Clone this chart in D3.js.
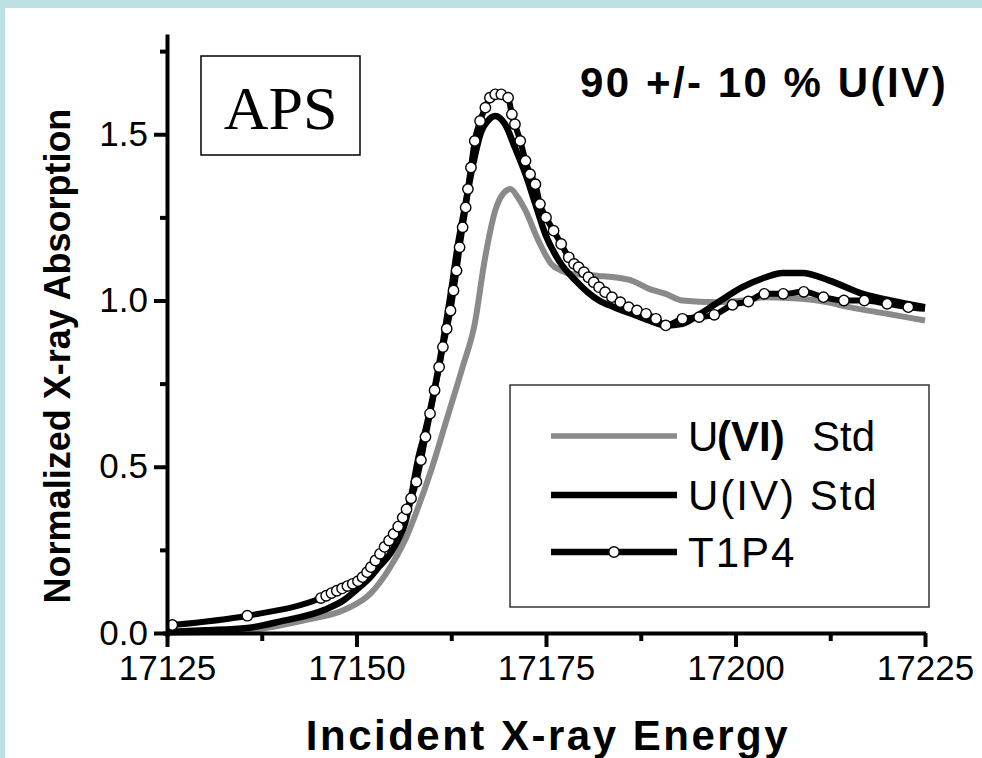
<!DOCTYPE html>
<html>
<head>
<meta charset="utf-8">
<script src="https://cdnjs.cloudflare.com/ajax/libs/d3/7.8.5/d3.min.js"></script>
<style>
  html, body { margin: 0; padding: 0; background: #BCE0E3; }
  svg { display: block; }
  text { font-family: "Liberation Sans", Arial, sans-serif; }
</style>
</head>
<body>
<svg id="chart" width="982" height="758"></svg>
<script>
// ---------- data ----------
const xMajorTicks = [17125, 17150, 17175, 17200, 17225];
const xMinorTicks = [17137.5, 17162.5, 17187.5, 17212.5];
const yMajorTicks = [0, 0.5, 1.0, 1.5];
const yMinorTicks = [0.25, 0.75, 1.25, 1.75];
const yTickLabels = ["0.0", "0.5", "1.0", "1.5"];

const seriesNames = ["U(VI) Std", "U(IV) Std", "T1P4"];

// U(VI) standard (grey)
const uviEnergy = [17125, 17130, 17136.5, 17143.5, 17148.4, 17151.9, 17154.5, 17156.8, 17158, 17160, 17162, 17164, 17165.6, 17166.9, 17168.3, 17169.3, 17170.3, 17171.3, 17172.3, 17174, 17175.7, 17177, 17178.4, 17182, 17184, 17186.3, 17188.6, 17190.8, 17193, 17197.4, 17201, 17204, 17208.8, 17212, 17215, 17220, 17225];
const uviValue  = [0.0, 0.003, 0.01, 0.04, 0.07, 0.12, 0.2, 0.3, 0.37, 0.5, 0.65, 0.8, 0.93, 1.12, 1.27, 1.32, 1.335, 1.31, 1.27, 1.18, 1.11, 1.09, 1.08, 1.074, 1.07, 1.06, 1.035, 1.02, 1.0, 0.995, 1.0, 1.01, 1.005, 0.995, 0.98, 0.96, 0.94];

// U(IV) standard (black)
const uivEnergy = [17125, 17130, 17135.6, 17140, 17145.8, 17148.4, 17150, 17151.9, 17153, 17154.5, 17155.5, 17156.4, 17157.3, 17158.1, 17159, 17160, 17161, 17161.6, 17162.5, 17163.4, 17164.3, 17165.2, 17166.5, 17167.3, 17168.3, 17169.6, 17170.9, 17172.3, 17173.6, 17174.9, 17176.7, 17178.9, 17180.5, 17182, 17184, 17186.3, 17188.6, 17190.8, 17193, 17195, 17197.4, 17200.9, 17204, 17206.2, 17208.8, 17212.4, 17216.8, 17220.4, 17225];
const uivValue  = [0.003, 0.008, 0.015, 0.035, 0.07, 0.10, 0.13, 0.17, 0.2, 0.24, 0.28, 0.33, 0.42, 0.52, 0.6, 0.7, 0.82, 0.9, 1.03, 1.17, 1.28, 1.39, 1.51, 1.54, 1.555, 1.53, 1.46, 1.38, 1.29, 1.2, 1.12, 1.06, 1.025, 1.0, 0.98, 0.96, 0.94, 0.925, 0.93, 0.955, 0.99, 1.04, 1.07, 1.083, 1.083, 1.06, 1.02, 1.0, 0.98];

// T1P4 sample (black line with open markers)
const t1p4Energy = [17125.7, 17135.6, 17145.3, 17146.0, 17146.7, 17147.4, 17148.1, 17148.8, 17149.5, 17150.2, 17150.8, 17151.4, 17151.9, 17152.5, 17153.1, 17153.7, 17154.3, 17154.9, 17155.5, 17156.1, 17156.6, 17157.2, 17157.9, 17158.5, 17159.1, 17159.7, 17160.3, 17160.9, 17161.4, 17161.9, 17162.4, 17162.8, 17163.2, 17163.6, 17164.0, 17164.4, 17164.7, 17165.1, 17165.6, 17166.3, 17167.0, 17167.6, 17168.3, 17169.1, 17170.0, 17170.5, 17170.9, 17171.6, 17172.3, 17172.9, 17173.6, 17174.2, 17175.0, 17176.0, 17177.0, 17178.0, 17178.7, 17179.3, 17180.0, 17180.6, 17181.3, 17182.0, 17182.8, 17183.7, 17184.8, 17185.9, 17187.0, 17188.2, 17189.5, 17190.8, 17193.0, 17195.2, 17197.2, 17199.6, 17201.7, 17203.8, 17206.3, 17209.0, 17211.6, 17214.3, 17217.0, 17220.0, 17222.8];
const t1p4Value  = [0.024, 0.052, 0.105, 0.112, 0.120, 0.127, 0.134, 0.141, 0.148, 0.156, 0.168, 0.183, 0.198, 0.218, 0.238, 0.259, 0.278, 0.298, 0.320, 0.347, 0.372, 0.405, 0.455, 0.52, 0.59, 0.66, 0.73, 0.80, 0.86, 0.915, 0.97, 1.03, 1.09, 1.16, 1.22, 1.28, 1.335, 1.40, 1.48, 1.54, 1.58, 1.61, 1.62, 1.62, 1.61, 1.56, 1.53, 1.48, 1.42, 1.38, 1.35, 1.29, 1.25, 1.21, 1.17, 1.13, 1.11, 1.10, 1.085, 1.07, 1.055, 1.04, 1.025, 1.01, 0.995, 0.98, 0.97, 0.96, 0.945, 0.925, 0.945, 0.95, 0.957, 0.987, 0.997, 1.02, 1.02, 1.026, 1.01, 1.0, 1.0, 0.99, 0.98];
const t1p4End = [17225, 0.975];

// ---------- drawing ----------
const svg = d3.select("#chart");
svg.append("rect").attr("x", 0).attr("y", 0).attr("width", 982).attr("height", 758).attr("fill", "#BCE0E3");
svg.append("rect").attr("x", 5).attr("y", 8).attr("width", 977).attr("height", 750).attr("fill", "#ffffff");

const x = d3.scaleLinear().domain([17125, 17225]).range([167, 925]);
const y = d3.scaleLinear().domain([0, 1.8]).range([633, 34.5]);

const zip = (a, b) => a.map((v, i) => [v, b[i]]);
const line = d3.line().x(d => x(d[0])).y(d => y(d[1])).curve(d3.curveMonotoneX);

const g = svg.append("g");

g.append("path").datum(zip(uviEnergy, uviValue))
  .attr("d", line).attr("fill", "none").attr("stroke", "#8a8a8a").attr("stroke-width", 6).attr("stroke-linejoin", "round");
g.append("path").datum(zip(uivEnergy, uivValue))
  .attr("d", line).attr("fill", "none").attr("stroke", "#000").attr("stroke-width", 6.5).attr("stroke-linejoin", "round");
const t1p4Pts = zip(t1p4Energy, t1p4Value);
g.append("path").datum(t1p4Pts.concat([t1p4End]))
  .attr("d", line).attr("fill", "none").attr("stroke", "#000").attr("stroke-width", 6).attr("stroke-linejoin", "round");
g.selectAll("circle.m").data(t1p4Pts).enter().append("circle")
  .attr("class", "m")
  .attr("cx", d => x(d[0])).attr("cy", d => y(d[1])).attr("r", 5.2)
  .attr("fill", "#fff").attr("stroke", "#000").attr("stroke-width", 1.4);

// ---------- axes ----------
const axisW = 4;
function styleAxis(sel) {
  sel.select(".domain").attr("stroke", "#000").attr("stroke-width", axisW);
  sel.selectAll(".tick line").attr("stroke", "#000").attr("stroke-width", axisW);
  sel.selectAll("text").attr("fill", "#000");
}

const xAxisMinor = svg.append("g").attr("transform", "translate(0,633)")
  .call(d3.axisBottom(x).tickValues(xMinorTicks).tickSize(8).tickSizeOuter(0).tickFormat(""));
xAxisMinor.select(".domain").remove();
xAxisMinor.selectAll(".tick line").attr("stroke", "#000").attr("stroke-width", axisW);

const xAxis = svg.append("g").attr("transform", "translate(0,633)")
  .call(d3.axisBottom(x).tickValues(xMajorTicks).tickSize(14).tickSizeOuter(0).tickPadding(8).tickFormat(d3.format("d")));
styleAxis(xAxis);
xAxis.select(".domain").attr("d", `M${x(17125) - 4},0.5H${x(17225) + 1}`);
xAxis.selectAll("text").attr("font-size", 35).attr("dy", "0.71em");

const yAxisMinor = svg.append("g").attr("transform", "translate(167,0)")
  .call(d3.axisLeft(y).tickValues(yMinorTicks).tickSize(7).tickSizeOuter(0).tickFormat(""));
yAxisMinor.select(".domain").remove();
yAxisMinor.selectAll(".tick line").attr("stroke", "#000").attr("stroke-width", axisW);

const yAxis = svg.append("g").attr("transform", "translate(167,0)")
  .call(d3.axisLeft(y).tickValues(yMajorTicks).tickSize(13).tickSizeOuter(0).tickPadding(6)
    .tickFormat((d, i) => yTickLabels[i]));
styleAxis(yAxis);
yAxis.select(".domain").attr("d", `M0.5,${y(0) + 4}V${y(1.8)}`);
yAxis.selectAll("text").attr("font-size", 35);

// axis titles
svg.append("text")
  .attr("transform", "translate(70,356) rotate(-90)")
  .attr("text-anchor", "middle").attr("font-weight", "bold").attr("font-size", 36)
  .text("Normalized X-ray Absorption");
svg.append("text")
  .attr("x", 548).attr("y", 750)
  .attr("text-anchor", "middle").attr("font-weight", "bold").attr("font-size", 42)
  .attr("letter-spacing", 2.5)
  .text("Incident X-ray Energy");

// title annotation
svg.append("text")
  .attr("x", 580).attr("y", 97)
  .attr("font-weight", "bold").attr("font-size", 42).attr("letter-spacing", 2.5)
  .text("90 +/- 10 % U(IV)");

// APS box
svg.append("rect").attr("x", 201).attr("y", 56).attr("width", 159).attr("height", 99)
  .attr("fill", "#fff").attr("stroke", "#000").attr("stroke-width", 1.5);
svg.append("text").attr("x", 280.5).attr("y", 129).attr("text-anchor", "middle")
  .attr("font-size", 62)
  .style("font-family", "'Liberation Serif', 'Times New Roman', serif")
  .text("APS");

// legend
const lg = svg.append("g");
lg.append("rect").attr("x", 510).attr("y", 385).attr("width", 419).attr("height", 222)
  .attr("fill", "#fff").attr("stroke", "#333").attr("stroke-width", 1.5);
const rowsY = [436, 495, 552];
const legStroke = ["#8a8a8a", "#000", "#000"];
rowsY.forEach((ry, i) => {
  lg.append("line").attr("x1", 551).attr("x2", 677).attr("y1", ry).attr("y2", ry)
    .attr("stroke", legStroke[i]).attr("stroke-width", i === 0 ? 5.5 : 6.5);
});
lg.append("circle").attr("cx", 614).attr("cy", rowsY[2]).attr("r", 5.2)
  .attr("fill", "#fff").attr("stroke", "#000").attr("stroke-width", 1.4);

const t1 = lg.append("text").attr("y", rowsY[0] + 15).attr("font-size", 42);
t1.append("tspan").attr("x", 688).text("U");
t1.append("tspan").attr("x", 717).attr("font-weight", "bold").text("(VI)");
t1.append("tspan").attr("x", 812).text("Std");
lg.append("text").attr("x", 688).attr("y", rowsY[1] + 15).attr("font-size", 42).attr("letter-spacing", 2)
  .text(seriesNames[1]);
lg.append("text").attr("x", 688).attr("y", rowsY[2] + 15).attr("font-size", 42).attr("letter-spacing", 2)
  .text(seriesNames[2]);
</script>
</body>
</html>
